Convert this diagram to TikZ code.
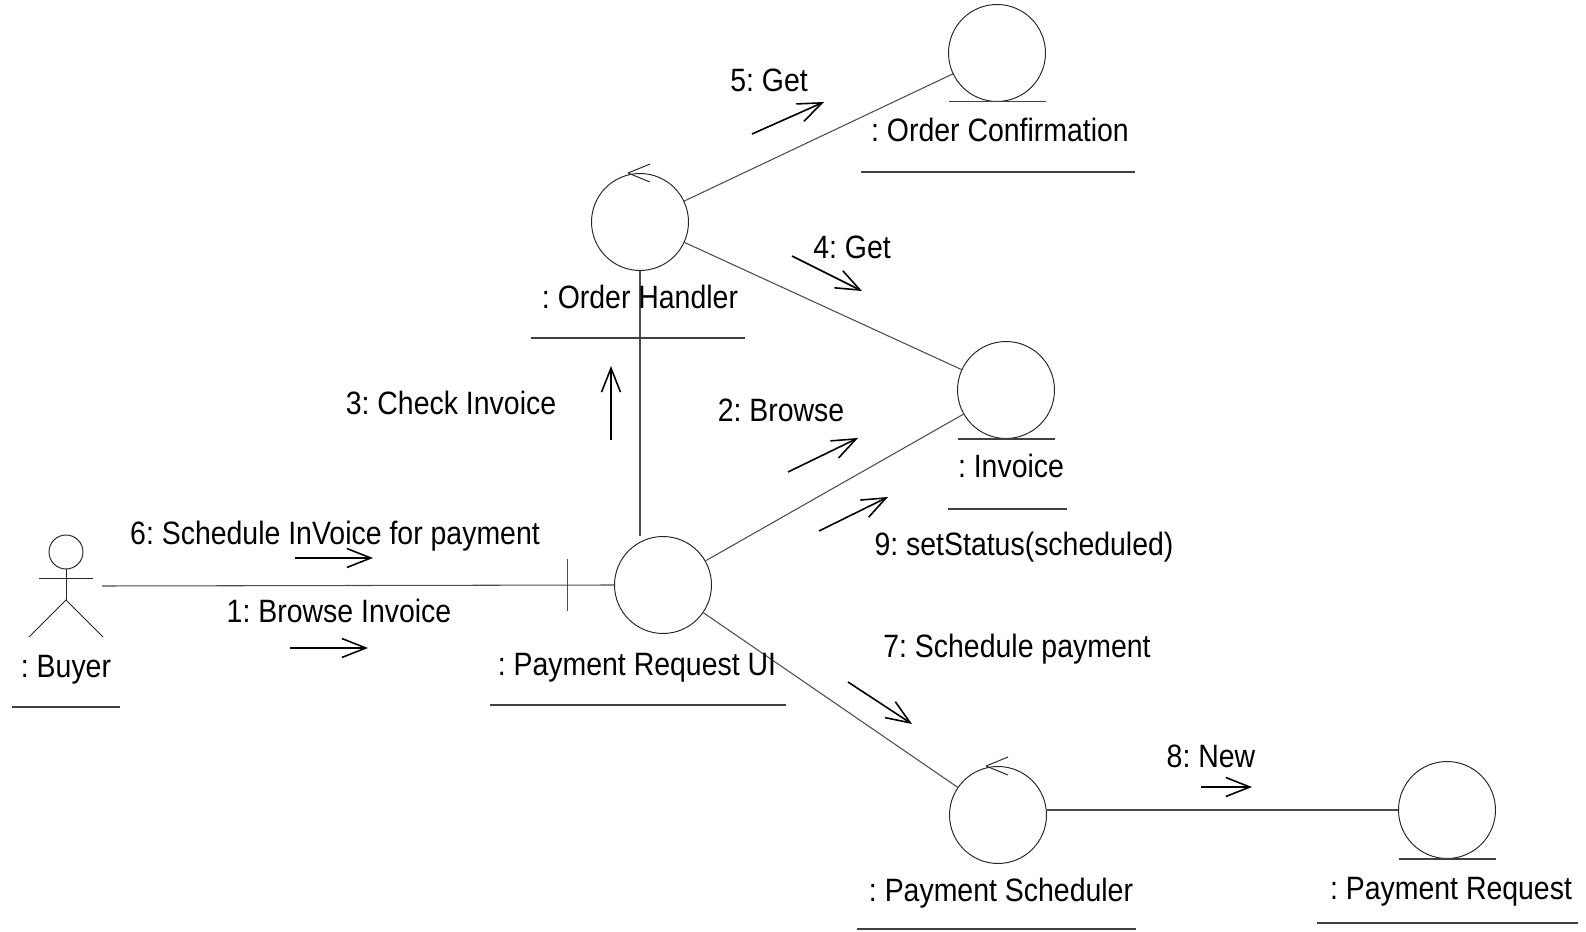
\documentclass[tikz,border=0pt]{standalone}
\usepackage{fontspec}
\setmainfont{Liberation Sans}[FakeStretch=0.88]
\usetikzlibrary{arrows.meta}
\frenchspacing

\begin{document}
\begin{tikzpicture}[x=0.02cm, y=-0.02cm,
  obj/.style={circle, draw=black!85, line width=0.55pt, minimum size=1.94cm, inner sep=0pt},
  link/.style={draw=black!70, line width=0.6pt},
  msg/.style={-{Straight Barb[length=0.48cm, width=0.38cm]}, line width=0.9pt},
  lbl/.style={font=\fontsize{18.4}{21}\selectfont, anchor=base, inner sep=0pt},
  uline/.style={draw=black!75, line width=0.6pt}]
\useasboundingbox (0,0) rectangle (1586,932);
% objects
\node[obj] (oh) at (640,222) {};
\node[obj] (oc) at (997,53) {};
\node[obj] (inv) at (1006,390) {};
\node[obj] (pui) at (663,585) {};
\node[obj] (ps) at (998,815) {};
\node[obj] (pr) at (1447,810) {};
% entity bars
\foreach \e in {oc,inv,pr}{\draw[uline] ([xshift=-0.97cm]\e.south) -- ([xshift=0.97cm]\e.south);}
% control arrows
\foreach \c in {oh,ps}{\draw[black!85, line width=0.55pt] ([shift={(-12,0)}]\c.north) -- ++(22,-9) ([shift={(-12,0)}]\c.north) -- ++(22,9);}
% buyer (actor)
\node[circle, draw=black!85, line width=0.55pt, minimum size=0.68cm, inner sep=0pt] (bhead) at (66,552) {};
\draw[black!85, line width=0.55pt] (bhead.south) -- (66,600) coordinate (bhip);
\draw[black!85, line width=0.55pt] (39,578) -- (93,578);
\draw[black!85, line width=0.55pt] (29,637) -- (bhip) -- (103,637);
\coordinate (bhand) at (102,586);
% links
\draw[link] (bhand) -- (pui.west);
\draw[link] ([shift={(-47,-26)}]pui.west) -- ([shift={(-47,26)}]pui.west);
\draw[link] (oh.south) -- (oh.south |- pui.north);
\draw[link] (oh) -- (oc);
\draw[link] (oh) -- (inv);
\draw[link] (pui) -- (inv);
\draw[link] (pui) -- (ps);
\draw[link] (pr.west -| ps.east) -- (pr.west);
% object names
\node[lbl] (buyerlbl) at (66,677) {: Buyer};
\node[lbl] (ohlbl) at (640,309) {: Order Handler};
\node[lbl] (oclbl) at (1000,142) {: Order Confirmation};
\node[lbl] (invlbl) at (1011,478) {: Invoice};
\node[lbl] (puilbl) at (637,675) {: Payment Request UI};
\node[lbl] (pslbl) at (1001,901) {: Payment Scheduler};
\node[lbl] (prlbl) at (1451,899) {: Payment Request};
\draw[uline] (12,707) -- (120,707);
\draw[uline] (531,338) -- (745,338);
\draw[uline] (861,172) -- (1135,172);
\draw[uline] (948,509) -- (1067,509);
\draw[uline] (490,705) -- (786,705);
\draw[uline] (857,929) -- (1136,929);
\draw[uline] (1317,923) -- (1578,923);
% messages
\node[lbl] (m1lbl) at (339,622) {1: Browse Invoice};
\coordinate (m1a) at (290,648); \coordinate (m1b) at (368,648);
\draw[msg] (m1a) -- (m1b);
\node[lbl] (m2lbl) at (781,422) {2: Browse};
\coordinate (m2a) at (788,472); \coordinate (m2b) at (858,438);
\draw[msg] (m2a) -- (m2b);
\node[lbl] (m3lbl) at (451,415) {3: Check Invoice};
\coordinate (m3a) at (611,440); \coordinate (m3b) at (611,366);
\draw[msg] (m3a) -- (m3b);
\node[lbl] (m4lbl) at (852,259) {4: Get};
\coordinate (m4a) at (792,256); \coordinate (m4b) at (862,291);
\draw[msg] (m4a) -- (m4b);
\node[lbl] (m5lbl) at (769,92) {5: Get};
\coordinate (m5a) at (752,134); \coordinate (m5b) at (824,102);
\draw[msg] (m5a) -- (m5b);
\node[lbl] (m6lbl) at (335,544) {6: Schedule InVoice for payment};
\coordinate (m6a) at (295,558); \coordinate (m6b) at (373,558);
\draw[msg] (m6a) -- (m6b);
\node[lbl] (m7lbl) at (1017,657) {7: Schedule payment};
\coordinate (m7a) at (848,682); \coordinate (m7b) at (912,724);
\draw[msg] (m7a) -- (m7b);
\node[lbl] (m8lbl) at (1211,767) {8: New};
\coordinate (m8a) at (1201,787); \coordinate (m8b) at (1252,787);
\draw[msg] (m8a) -- (m8b);
\node[lbl] (m9lbl) at (1024,555) {9: setStatus(scheduled)};
\coordinate (m9a) at (819,531); \coordinate (m9b) at (888,497);
\draw[msg] (m9a) -- (m9b);
\end{tikzpicture}
\end{document}
